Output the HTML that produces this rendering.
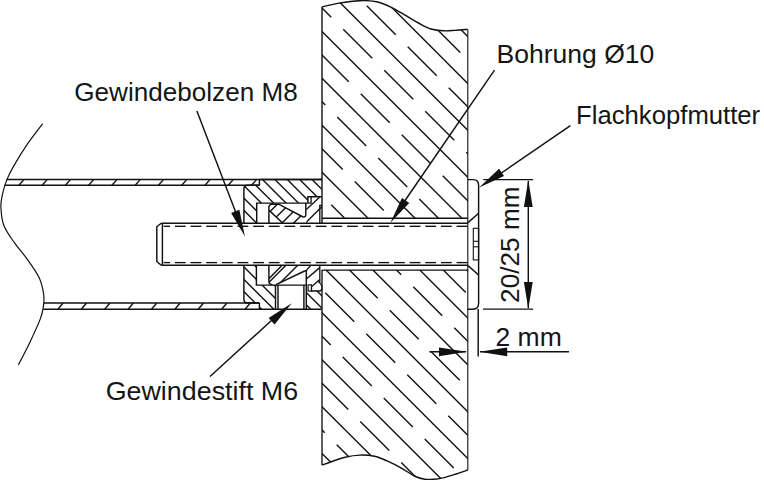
<!DOCTYPE html>
<html><head><meta charset="utf-8"><style>
html,body{margin:0;padding:0;background:#fff;width:764px;height:480px;overflow:hidden}
svg{display:block}
text{font-family:"Liberation Sans",sans-serif;font-size:26.6px;fill:#151515}
</style></head><body>
<svg width="764" height="480" viewBox="0 0 764 480">
<defs><clipPath id="wallclip"><path d="M322.00,6.90 C324.83,6.27 332.68,4.13 339.00,3.10 C345.32,2.07 353.63,0.92 359.90,0.70 C366.17,0.48 371.37,0.70 376.60,1.80 C381.83,2.90 386.40,4.98 391.30,7.30 C396.20,9.62 401.47,13.08 406.00,15.70 C410.53,18.32 414.33,20.78 418.50,23.00 C422.67,25.22 426.80,27.70 431.00,29.00 C435.20,30.30 439.70,30.57 443.70,30.80 C447.70,31.03 450.98,30.63 455.00,30.40 C459.02,30.17 465.67,29.57 467.80,29.40 L467.8,218.3 L322.0,218.3 Z"/><path d="M322.0,270.1 L467.8,270.1 L467.8,470 C465.52,470.77 458.82,473.17 454.10,474.60 C449.38,476.03 444.38,477.83 439.50,478.60 C434.62,479.37 429.00,479.63 424.80,479.20 C420.60,478.77 418.13,477.82 414.30,476.00 C410.47,474.18 406.33,470.82 401.80,468.30 C397.27,465.78 391.65,462.90 387.10,460.90 C382.55,458.90 379.03,457.27 374.50,456.30 C369.97,455.33 364.78,454.95 359.90,455.10 C355.02,455.25 350.08,456.05 345.20,457.20 C340.32,458.35 334.47,460.68 330.60,462.00 C326.73,463.32 323.43,464.58 322.00,465.10 Z"/></clipPath><clipPath id="cbu"><path d="M259.4,179.4 L321.8,179.4 L321.8,196.8 L307.9,196.8 L307.9,203.1 L256.7,203.1 L256.7,223.3 L243.9,223.3 L243.9,189 Q243.9,185.3 247.6,185.3 L259.4,185.3 Z"/></clipPath><clipPath id="cbl"><path d="M243.9,265.3 L256.4,265.3 L256.4,285.1 L275.5,285.1 L275.5,309.3 L259.4,309.3 L259.4,303 L247.6,303 Q243.9,303 243.9,299.3 Z"/></clipPath><clipPath id="cbl2"><path d="M306.3,290.9 L321.8,290.9 L321.8,309.3 L306.3,309.3 Z"/></clipPath><clipPath id="cwu"><path d="M268.9,210.1 L268.9,206.5 L270.6,204.3 L278.7,204.2 L302.6,216.7 Q305.8,217.6 305.8,214.8 L305.8,223.3 L282.9,223.3 Z"/></clipPath><clipPath id="cwl"><path d="M268.9,278.7 L282,265.3 L306.3,265.3 L306.3,271.5 Q305.6,270.4 304.6,271 L276,284.7 L272.5,284.7 Q268.9,284.7 268.9,281.6 Z"/></clipPath><clipPath id="cru"><path d="M306.3,223.3 L306.3,209.4 L319.6,197.2 L321.8,197.2 L321.8,223.3 Z"/></clipPath></defs>
<g stroke="#111" fill="none" stroke-linecap="butt">
<g clip-path="url(#wallclip)" stroke="#111" stroke-linecap="butt"><line x1="317.00" y1="-208.05" x2="472.80" y2="-52.25" stroke-width="1.4"/><line x1="317.00" y1="-161.15" x2="472.80" y2="-5.35" stroke-width="1.4"/><line x1="317.00" y1="-114.25" x2="472.80" y2="41.55" stroke-width="1.4"/><line x1="317.00" y1="-67.35" x2="472.80" y2="88.45" stroke-width="1.4"/><line x1="317.00" y1="-20.45" x2="472.80" y2="135.35" stroke-width="1.4"/><line x1="317.00" y1="26.45" x2="472.80" y2="182.25" stroke-width="1.4"/><line x1="317.00" y1="73.35" x2="472.80" y2="229.15" stroke-width="1.4"/><line x1="317.00" y1="120.25" x2="472.80" y2="276.05" stroke-width="1.4"/><line x1="317.00" y1="167.15" x2="472.80" y2="322.95" stroke-width="1.4"/><line x1="317.00" y1="214.05" x2="472.80" y2="369.85" stroke-width="1.4"/><line x1="317.00" y1="260.95" x2="472.80" y2="416.75" stroke-width="1.4"/><line x1="317.00" y1="307.85" x2="472.80" y2="463.65" stroke-width="1.4"/><line x1="317.00" y1="354.75" x2="472.80" y2="510.55" stroke-width="1.4"/><line x1="317.00" y1="401.65" x2="472.80" y2="557.45" stroke-width="1.4"/><line x1="317.00" y1="448.55" x2="472.80" y2="604.35" stroke-width="1.4"/><line x1="317.00" y1="495.45" x2="472.80" y2="651.25" stroke-width="1.4"/><line x1="317.00" y1="542.35" x2="472.80" y2="698.15" stroke-width="1.4"/><line x1="317.00" y1="589.25" x2="472.80" y2="745.05" stroke-width="1.4"/><line x1="273.25" y1="-228.35" x2="302.25" y2="-199.35" stroke-width="1.4"/><line x1="314.25" y1="-187.35" x2="343.25" y2="-158.35" stroke-width="1.4"/><line x1="355.25" y1="-146.35" x2="384.25" y2="-117.35" stroke-width="1.4"/><line x1="396.25" y1="-105.35" x2="425.25" y2="-76.35" stroke-width="1.4"/><line x1="437.25" y1="-64.35" x2="466.25" y2="-35.35" stroke-width="1.4"/><line x1="249.75" y1="-204.95" x2="278.75" y2="-175.95" stroke-width="1.4"/><line x1="290.75" y1="-163.95" x2="319.75" y2="-134.95" stroke-width="1.4"/><line x1="331.75" y1="-122.95" x2="360.75" y2="-93.95" stroke-width="1.4"/><line x1="372.75" y1="-81.95" x2="401.75" y2="-52.95" stroke-width="1.4"/><line x1="413.75" y1="-40.95" x2="442.75" y2="-11.95" stroke-width="1.4"/><line x1="454.75" y1="0.05" x2="483.75" y2="29.05" stroke-width="1.4"/><line x1="267.25" y1="-140.55" x2="296.25" y2="-111.55" stroke-width="1.4"/><line x1="308.25" y1="-99.55" x2="337.25" y2="-70.55" stroke-width="1.4"/><line x1="349.25" y1="-58.55" x2="378.25" y2="-29.55" stroke-width="1.4"/><line x1="390.25" y1="-17.55" x2="419.25" y2="11.45" stroke-width="1.4"/><line x1="431.25" y1="23.45" x2="460.25" y2="52.45" stroke-width="1.4"/><line x1="472.25" y1="64.45" x2="501.25" y2="93.45" stroke-width="1.4"/><line x1="243.75" y1="-117.15" x2="272.75" y2="-88.15" stroke-width="1.4"/><line x1="284.75" y1="-76.15" x2="313.75" y2="-47.15" stroke-width="1.4"/><line x1="325.75" y1="-35.15" x2="354.75" y2="-6.15" stroke-width="1.4"/><line x1="366.75" y1="5.85" x2="395.75" y2="34.85" stroke-width="1.4"/><line x1="407.75" y1="46.85" x2="436.75" y2="75.85" stroke-width="1.4"/><line x1="448.75" y1="87.85" x2="477.75" y2="116.85" stroke-width="1.4"/><line x1="261.25" y1="-52.75" x2="290.25" y2="-23.75" stroke-width="1.4"/><line x1="302.25" y1="-11.75" x2="331.25" y2="17.25" stroke-width="1.4"/><line x1="343.25" y1="29.25" x2="372.25" y2="58.25" stroke-width="1.4"/><line x1="384.25" y1="70.25" x2="413.25" y2="99.25" stroke-width="1.4"/><line x1="425.25" y1="111.25" x2="454.25" y2="140.25" stroke-width="1.4"/><line x1="466.25" y1="152.25" x2="495.25" y2="181.25" stroke-width="1.4"/><line x1="237.75" y1="-29.35" x2="266.75" y2="-0.35" stroke-width="1.4"/><line x1="278.75" y1="11.65" x2="307.75" y2="40.65" stroke-width="1.4"/><line x1="319.75" y1="52.65" x2="348.75" y2="81.65" stroke-width="1.4"/><line x1="360.75" y1="93.65" x2="389.75" y2="122.65" stroke-width="1.4"/><line x1="401.75" y1="134.65" x2="430.75" y2="163.65" stroke-width="1.4"/><line x1="442.75" y1="175.65" x2="471.75" y2="204.65" stroke-width="1.4"/><line x1="255.25" y1="35.05" x2="284.25" y2="64.05" stroke-width="1.4"/><line x1="296.25" y1="76.05" x2="325.25" y2="105.05" stroke-width="1.4"/><line x1="337.25" y1="117.05" x2="366.25" y2="146.05" stroke-width="1.4"/><line x1="378.25" y1="158.05" x2="407.25" y2="187.05" stroke-width="1.4"/><line x1="419.25" y1="199.05" x2="448.25" y2="228.05" stroke-width="1.4"/><line x1="460.25" y1="240.05" x2="489.25" y2="269.05" stroke-width="1.4"/><line x1="272.75" y1="99.45" x2="301.75" y2="128.45" stroke-width="1.4"/><line x1="313.75" y1="140.45" x2="342.75" y2="169.45" stroke-width="1.4"/><line x1="354.75" y1="181.45" x2="383.75" y2="210.45" stroke-width="1.4"/><line x1="395.75" y1="222.45" x2="424.75" y2="251.45" stroke-width="1.4"/><line x1="436.75" y1="263.45" x2="465.75" y2="292.45" stroke-width="1.4"/><line x1="249.25" y1="122.85" x2="278.25" y2="151.85" stroke-width="1.4"/><line x1="290.25" y1="163.85" x2="319.25" y2="192.85" stroke-width="1.4"/><line x1="331.25" y1="204.85" x2="360.25" y2="233.85" stroke-width="1.4"/><line x1="372.25" y1="245.85" x2="401.25" y2="274.85" stroke-width="1.4"/><line x1="413.25" y1="286.85" x2="442.25" y2="315.85" stroke-width="1.4"/><line x1="454.25" y1="327.85" x2="483.25" y2="356.85" stroke-width="1.4"/><line x1="266.75" y1="187.25" x2="295.75" y2="216.25" stroke-width="1.4"/><line x1="307.75" y1="228.25" x2="336.75" y2="257.25" stroke-width="1.4"/><line x1="348.75" y1="269.25" x2="377.75" y2="298.25" stroke-width="1.4"/><line x1="389.75" y1="310.25" x2="418.75" y2="339.25" stroke-width="1.4"/><line x1="430.75" y1="351.25" x2="459.75" y2="380.25" stroke-width="1.4"/><line x1="471.75" y1="392.25" x2="500.75" y2="421.25" stroke-width="1.4"/><line x1="243.25" y1="210.65" x2="272.25" y2="239.65" stroke-width="1.4"/><line x1="284.25" y1="251.65" x2="313.25" y2="280.65" stroke-width="1.4"/><line x1="325.25" y1="292.65" x2="354.25" y2="321.65" stroke-width="1.4"/><line x1="366.25" y1="333.65" x2="395.25" y2="362.65" stroke-width="1.4"/><line x1="407.25" y1="374.65" x2="436.25" y2="403.65" stroke-width="1.4"/><line x1="448.25" y1="415.65" x2="477.25" y2="444.65" stroke-width="1.4"/><line x1="260.75" y1="275.05" x2="289.75" y2="304.05" stroke-width="1.4"/><line x1="301.75" y1="316.05" x2="330.75" y2="345.05" stroke-width="1.4"/><line x1="342.75" y1="357.05" x2="371.75" y2="386.05" stroke-width="1.4"/><line x1="383.75" y1="398.05" x2="412.75" y2="427.05" stroke-width="1.4"/><line x1="424.75" y1="439.05" x2="453.75" y2="468.05" stroke-width="1.4"/><line x1="465.75" y1="480.05" x2="494.75" y2="509.05" stroke-width="1.4"/><line x1="237.25" y1="298.45" x2="266.25" y2="327.45" stroke-width="1.4"/><line x1="278.25" y1="339.45" x2="307.25" y2="368.45" stroke-width="1.4"/><line x1="319.25" y1="380.45" x2="348.25" y2="409.45" stroke-width="1.4"/><line x1="360.25" y1="421.45" x2="389.25" y2="450.45" stroke-width="1.4"/><line x1="401.25" y1="462.45" x2="430.25" y2="491.45" stroke-width="1.4"/><line x1="442.25" y1="503.45" x2="471.25" y2="532.45" stroke-width="1.4"/><line x1="254.75" y1="362.85" x2="283.75" y2="391.85" stroke-width="1.4"/><line x1="295.75" y1="403.85" x2="324.75" y2="432.85" stroke-width="1.4"/><line x1="336.75" y1="444.85" x2="365.75" y2="473.85" stroke-width="1.4"/><line x1="377.75" y1="485.85" x2="406.75" y2="514.85" stroke-width="1.4"/><line x1="418.75" y1="526.85" x2="447.75" y2="555.85" stroke-width="1.4"/><line x1="459.75" y1="567.85" x2="488.75" y2="596.85" stroke-width="1.4"/><line x1="272.25" y1="427.25" x2="301.25" y2="456.25" stroke-width="1.4"/><line x1="313.25" y1="468.25" x2="342.25" y2="497.25" stroke-width="1.4"/><line x1="354.25" y1="509.25" x2="383.25" y2="538.25" stroke-width="1.4"/><line x1="395.25" y1="550.25" x2="424.25" y2="579.25" stroke-width="1.4"/><line x1="436.25" y1="591.25" x2="465.25" y2="620.25" stroke-width="1.4"/><line x1="248.75" y1="450.65" x2="277.75" y2="479.65" stroke-width="1.4"/><line x1="289.75" y1="491.65" x2="318.75" y2="520.65" stroke-width="1.4"/><line x1="330.75" y1="532.65" x2="359.75" y2="561.65" stroke-width="1.4"/><line x1="371.75" y1="573.65" x2="400.75" y2="602.65" stroke-width="1.4"/><line x1="412.75" y1="614.65" x2="441.75" y2="643.65" stroke-width="1.4"/><line x1="453.75" y1="655.65" x2="482.75" y2="684.65" stroke-width="1.4"/><line x1="266.25" y1="515.05" x2="295.25" y2="544.05" stroke-width="1.4"/><line x1="307.25" y1="556.05" x2="336.25" y2="585.05" stroke-width="1.4"/><line x1="348.25" y1="597.05" x2="377.25" y2="626.05" stroke-width="1.4"/><line x1="389.25" y1="638.05" x2="418.25" y2="667.05" stroke-width="1.4"/><line x1="430.25" y1="679.05" x2="459.25" y2="708.05" stroke-width="1.4"/><line x1="471.25" y1="720.05" x2="500.25" y2="749.05" stroke-width="1.4"/><line x1="242.75" y1="538.45" x2="271.75" y2="567.45" stroke-width="1.4"/><line x1="283.75" y1="579.45" x2="312.75" y2="608.45" stroke-width="1.4"/><line x1="324.75" y1="620.45" x2="353.75" y2="649.45" stroke-width="1.4"/><line x1="365.75" y1="661.45" x2="394.75" y2="690.45" stroke-width="1.4"/><line x1="406.75" y1="702.45" x2="435.75" y2="731.45" stroke-width="1.4"/><line x1="447.75" y1="743.45" x2="476.75" y2="772.45" stroke-width="1.4"/></g>
<path d="M322.00,6.90 C324.83,6.27 332.68,4.13 339.00,3.10 C345.32,2.07 353.63,0.92 359.90,0.70 C366.17,0.48 371.37,0.70 376.60,1.80 C381.83,2.90 386.40,4.98 391.30,7.30 C396.20,9.62 401.47,13.08 406.00,15.70 C410.53,18.32 414.33,20.78 418.50,23.00 C422.67,25.22 426.80,27.70 431.00,29.00 C435.20,30.30 439.70,30.57 443.70,30.80 C447.70,31.03 450.98,30.63 455.00,30.40 C459.02,30.17 465.67,29.57 467.80,29.40" fill="none" stroke-width="1.45"/>
<path d="M322.00,465.10 C323.43,464.58 326.73,463.32 330.60,462.00 C334.47,460.68 340.32,458.35 345.20,457.20 C350.08,456.05 355.02,455.25 359.90,455.10 C364.78,454.95 369.97,455.33 374.50,456.30 C379.03,457.27 382.55,458.90 387.10,460.90 C391.65,462.90 397.27,465.78 401.80,468.30 C406.33,470.82 410.47,474.18 414.30,476.00 C418.13,477.82 420.60,478.77 424.80,479.20 C429.00,479.63 434.62,479.37 439.50,478.60 C444.38,477.83 449.38,476.03 454.10,474.60 C458.82,473.17 465.52,470.77 467.80,470.00" fill="none" stroke-width="1.45"/>
<line x1="322.00" y1="6.90" x2="322.00" y2="223.00" stroke-width="1.4"/>
<line x1="322.00" y1="270.10" x2="322.00" y2="465.10" stroke-width="1.35"/>
<line x1="467.80" y1="29.40" x2="467.80" y2="470.00" stroke-width="1.1"/>
<line x1="322.00" y1="218.30" x2="467.80" y2="218.30" stroke-width="1.45"/>
<line x1="322.00" y1="270.10" x2="467.80" y2="270.10" stroke-width="1.45"/>
<path d="M161.2,223.3 L156.8,226.8 L156.8,261.5 L161.2,265.3" fill="none" stroke-width="1.45"/>
<line x1="162.40" y1="223.30" x2="162.40" y2="265.30" stroke-width="1.45"/>
<line x1="161.20" y1="223.30" x2="468.00" y2="223.30" stroke-width="1.45"/>
<line x1="161.20" y1="265.30" x2="468.00" y2="265.30" stroke-width="1.45"/>
<line x1="163.70" y1="226.30" x2="170.05" y2="226.30" stroke-width="1.35"/><line x1="174.90" y1="226.30" x2="185.70" y2="226.30" stroke-width="1.35"/><line x1="190.55" y1="226.30" x2="201.35" y2="226.30" stroke-width="1.35"/><line x1="206.20" y1="226.30" x2="217.00" y2="226.30" stroke-width="1.35"/><line x1="221.85" y1="226.30" x2="232.65" y2="226.30" stroke-width="1.35"/><line x1="237.50" y1="226.30" x2="248.30" y2="226.30" stroke-width="1.35"/><line x1="253.15" y1="226.30" x2="263.95" y2="226.30" stroke-width="1.35"/><line x1="268.80" y1="226.30" x2="279.60" y2="226.30" stroke-width="1.35"/><line x1="284.45" y1="226.30" x2="295.25" y2="226.30" stroke-width="1.35"/><line x1="300.10" y1="226.30" x2="310.90" y2="226.30" stroke-width="1.35"/><line x1="315.75" y1="226.30" x2="326.55" y2="226.30" stroke-width="1.35"/><line x1="331.40" y1="226.30" x2="342.20" y2="226.30" stroke-width="1.35"/><line x1="347.05" y1="226.30" x2="357.85" y2="226.30" stroke-width="1.35"/><line x1="362.70" y1="226.30" x2="373.50" y2="226.30" stroke-width="1.35"/><line x1="378.35" y1="226.30" x2="389.15" y2="226.30" stroke-width="1.35"/><line x1="394.00" y1="226.30" x2="404.80" y2="226.30" stroke-width="1.35"/><line x1="409.65" y1="226.30" x2="420.45" y2="226.30" stroke-width="1.35"/><line x1="425.30" y1="226.30" x2="436.10" y2="226.30" stroke-width="1.35"/><line x1="440.95" y1="226.30" x2="451.75" y2="226.30" stroke-width="1.35"/><line x1="456.60" y1="226.30" x2="467.40" y2="226.30" stroke-width="1.35"/>
<line x1="163.70" y1="262.60" x2="170.05" y2="262.60" stroke-width="1.35"/><line x1="174.90" y1="262.60" x2="185.70" y2="262.60" stroke-width="1.35"/><line x1="190.55" y1="262.60" x2="201.35" y2="262.60" stroke-width="1.35"/><line x1="206.20" y1="262.60" x2="217.00" y2="262.60" stroke-width="1.35"/><line x1="221.85" y1="262.60" x2="232.65" y2="262.60" stroke-width="1.35"/><line x1="237.50" y1="262.60" x2="248.30" y2="262.60" stroke-width="1.35"/><line x1="253.15" y1="262.60" x2="263.95" y2="262.60" stroke-width="1.35"/><line x1="268.80" y1="262.60" x2="279.60" y2="262.60" stroke-width="1.35"/><line x1="284.45" y1="262.60" x2="295.25" y2="262.60" stroke-width="1.35"/><line x1="300.10" y1="262.60" x2="310.90" y2="262.60" stroke-width="1.35"/><line x1="315.75" y1="262.60" x2="326.55" y2="262.60" stroke-width="1.35"/><line x1="331.40" y1="262.60" x2="342.20" y2="262.60" stroke-width="1.35"/><line x1="347.05" y1="262.60" x2="357.85" y2="262.60" stroke-width="1.35"/><line x1="362.70" y1="262.60" x2="373.50" y2="262.60" stroke-width="1.35"/><line x1="378.35" y1="262.60" x2="389.15" y2="262.60" stroke-width="1.35"/><line x1="394.00" y1="262.60" x2="404.80" y2="262.60" stroke-width="1.35"/><line x1="409.65" y1="262.60" x2="420.45" y2="262.60" stroke-width="1.35"/><line x1="425.30" y1="262.60" x2="436.10" y2="262.60" stroke-width="1.35"/><line x1="440.95" y1="262.60" x2="451.75" y2="262.60" stroke-width="1.35"/><line x1="456.60" y1="262.60" x2="467.40" y2="262.60" stroke-width="1.35"/>
<path d="M42.70,123.60 C40.08,127.12 31.87,137.57 27.00,144.70 C22.13,151.83 16.87,160.53 13.50,166.40 C10.13,172.27 8.60,175.40 6.80,179.90 C5.00,184.40 3.68,188.90 2.70,193.40 C1.72,197.90 0.68,201.50 0.90,206.90 C1.12,212.30 1.67,219.72 4.00,225.80 C6.33,231.88 11.07,237.88 14.90,243.40 C18.73,248.92 22.95,253.17 27.00,258.90 C31.05,264.63 36.43,271.95 39.20,277.80 C41.97,283.65 42.87,289.48 43.60,294.00 C44.33,298.52 44.12,300.83 43.60,304.90 C43.08,308.97 42.82,312.10 40.50,318.40 C38.18,324.70 33.38,334.95 29.70,342.70 C26.02,350.45 20.28,361.20 18.40,364.90" fill="none" stroke-width="1.2"/>
<line x1="6.50" y1="179.40" x2="322.00" y2="179.40" stroke-width="1.45"/>
<line x1="4.60" y1="185.30" x2="259.40" y2="185.30" stroke-width="1.45"/>
<line x1="259.40" y1="179.40" x2="259.40" y2="185.30" stroke-width="1.45"/>
<line x1="18.90" y1="185.30" x2="24.10" y2="179.40" stroke-width="1.4"/>
<line x1="42.16" y1="185.30" x2="47.36" y2="179.40" stroke-width="1.4"/>
<line x1="65.42" y1="185.30" x2="70.62" y2="179.40" stroke-width="1.4"/>
<line x1="88.68" y1="185.30" x2="93.88" y2="179.40" stroke-width="1.4"/>
<line x1="111.94" y1="185.30" x2="117.14" y2="179.40" stroke-width="1.4"/>
<line x1="135.20" y1="185.30" x2="140.40" y2="179.40" stroke-width="1.4"/>
<line x1="158.46" y1="185.30" x2="163.66" y2="179.40" stroke-width="1.4"/>
<line x1="181.72" y1="185.30" x2="186.92" y2="179.40" stroke-width="1.4"/>
<line x1="204.98" y1="185.30" x2="210.18" y2="179.40" stroke-width="1.4"/>
<line x1="228.24" y1="185.30" x2="233.44" y2="179.40" stroke-width="1.4"/>
<line x1="251.50" y1="185.30" x2="256.70" y2="179.40" stroke-width="1.4"/>
<line x1="43.70" y1="303.00" x2="259.40" y2="303.00" stroke-width="1.45"/>
<line x1="43.30" y1="309.30" x2="322.00" y2="309.30" stroke-width="1.45"/>
<line x1="259.40" y1="303.00" x2="259.40" y2="309.30" stroke-width="1.45"/>
<line x1="57.90" y1="309.30" x2="63.10" y2="303.00" stroke-width="1.4"/>
<line x1="81.30" y1="309.30" x2="86.50" y2="303.00" stroke-width="1.4"/>
<line x1="104.70" y1="309.30" x2="109.90" y2="303.00" stroke-width="1.4"/>
<line x1="128.10" y1="309.30" x2="133.30" y2="303.00" stroke-width="1.4"/>
<line x1="151.50" y1="309.30" x2="156.70" y2="303.00" stroke-width="1.4"/>
<line x1="174.90" y1="309.30" x2="180.10" y2="303.00" stroke-width="1.4"/>
<line x1="198.30" y1="309.30" x2="203.50" y2="303.00" stroke-width="1.4"/>
<line x1="221.70" y1="309.30" x2="226.90" y2="303.00" stroke-width="1.4"/>
<line x1="245.10" y1="309.30" x2="250.30" y2="303.00" stroke-width="1.4"/>
<g clip-path="url(#cbu)"><line x1="230.00" y1="47.80" x2="330.00" y2="147.80" stroke-width="1.4"/><line x1="230.00" y1="60.20" x2="330.00" y2="160.20" stroke-width="1.4"/><line x1="230.00" y1="72.60" x2="330.00" y2="172.60" stroke-width="1.4"/><line x1="230.00" y1="85.00" x2="330.00" y2="185.00" stroke-width="1.4"/><line x1="230.00" y1="97.40" x2="330.00" y2="197.40" stroke-width="1.4"/><line x1="230.00" y1="109.80" x2="330.00" y2="209.80" stroke-width="1.4"/><line x1="230.00" y1="122.20" x2="330.00" y2="222.20" stroke-width="1.4"/><line x1="230.00" y1="134.60" x2="330.00" y2="234.60" stroke-width="1.4"/><line x1="230.00" y1="147.00" x2="330.00" y2="247.00" stroke-width="1.4"/><line x1="230.00" y1="159.40" x2="330.00" y2="259.40" stroke-width="1.4"/><line x1="230.00" y1="171.80" x2="330.00" y2="271.80" stroke-width="1.4"/><line x1="230.00" y1="184.20" x2="330.00" y2="284.20" stroke-width="1.4"/><line x1="230.00" y1="196.60" x2="330.00" y2="296.60" stroke-width="1.4"/><line x1="230.00" y1="209.00" x2="330.00" y2="309.00" stroke-width="1.4"/><line x1="230.00" y1="221.40" x2="330.00" y2="321.40" stroke-width="1.4"/><line x1="230.00" y1="233.80" x2="330.00" y2="333.80" stroke-width="1.4"/><line x1="230.00" y1="246.20" x2="330.00" y2="346.20" stroke-width="1.4"/><line x1="230.00" y1="258.60" x2="330.00" y2="358.60" stroke-width="1.4"/></g>
<g clip-path="url(#cbl)"><line x1="230.00" y1="154.70" x2="330.00" y2="254.70" stroke-width="1.4"/><line x1="230.00" y1="167.00" x2="330.00" y2="267.00" stroke-width="1.4"/><line x1="230.00" y1="179.30" x2="330.00" y2="279.30" stroke-width="1.4"/><line x1="230.00" y1="191.60" x2="330.00" y2="291.60" stroke-width="1.4"/><line x1="230.00" y1="203.90" x2="330.00" y2="303.90" stroke-width="1.4"/><line x1="230.00" y1="216.20" x2="330.00" y2="316.20" stroke-width="1.4"/><line x1="230.00" y1="228.50" x2="330.00" y2="328.50" stroke-width="1.4"/><line x1="230.00" y1="240.80" x2="330.00" y2="340.80" stroke-width="1.4"/><line x1="230.00" y1="253.10" x2="330.00" y2="353.10" stroke-width="1.4"/><line x1="230.00" y1="265.40" x2="330.00" y2="365.40" stroke-width="1.4"/><line x1="230.00" y1="277.70" x2="330.00" y2="377.70" stroke-width="1.4"/><line x1="230.00" y1="290.00" x2="330.00" y2="390.00" stroke-width="1.4"/><line x1="230.00" y1="302.30" x2="330.00" y2="402.30" stroke-width="1.4"/><line x1="230.00" y1="314.60" x2="330.00" y2="414.60" stroke-width="1.4"/><line x1="230.00" y1="326.90" x2="330.00" y2="426.90" stroke-width="1.4"/><line x1="230.00" y1="339.20" x2="330.00" y2="439.20" stroke-width="1.4"/></g>
<g clip-path="url(#cbl2)"><line x1="230.00" y1="117.80" x2="330.00" y2="217.80" stroke-width="1.4"/><line x1="230.00" y1="130.10" x2="330.00" y2="230.10" stroke-width="1.4"/><line x1="230.00" y1="142.40" x2="330.00" y2="242.40" stroke-width="1.4"/><line x1="230.00" y1="154.70" x2="330.00" y2="254.70" stroke-width="1.4"/><line x1="230.00" y1="167.00" x2="330.00" y2="267.00" stroke-width="1.4"/><line x1="230.00" y1="179.30" x2="330.00" y2="279.30" stroke-width="1.4"/><line x1="230.00" y1="191.60" x2="330.00" y2="291.60" stroke-width="1.4"/><line x1="230.00" y1="203.90" x2="330.00" y2="303.90" stroke-width="1.4"/><line x1="230.00" y1="216.20" x2="330.00" y2="316.20" stroke-width="1.4"/><line x1="230.00" y1="228.50" x2="330.00" y2="328.50" stroke-width="1.4"/><line x1="230.00" y1="240.80" x2="330.00" y2="340.80" stroke-width="1.4"/><line x1="230.00" y1="253.10" x2="330.00" y2="353.10" stroke-width="1.4"/><line x1="230.00" y1="265.40" x2="330.00" y2="365.40" stroke-width="1.4"/><line x1="230.00" y1="277.70" x2="330.00" y2="377.70" stroke-width="1.4"/><line x1="230.00" y1="290.00" x2="330.00" y2="390.00" stroke-width="1.4"/><line x1="230.00" y1="302.30" x2="330.00" y2="402.30" stroke-width="1.4"/></g>
<g clip-path="url(#cwu)"><line x1="230.00" y1="251.60" x2="330.00" y2="151.60" stroke-width="1.4"/><line x1="230.00" y1="263.30" x2="330.00" y2="163.30" stroke-width="1.4"/><line x1="230.00" y1="275.00" x2="330.00" y2="175.00" stroke-width="1.4"/><line x1="230.00" y1="286.70" x2="330.00" y2="186.70" stroke-width="1.4"/></g>
<g clip-path="url(#cwl)"><line x1="230.00" y1="321.20" x2="330.00" y2="221.20" stroke-width="1.4"/><line x1="230.00" y1="333.00" x2="330.00" y2="233.00" stroke-width="1.4"/></g>
<g clip-path="url(#cru)"><line x1="230.00" y1="298.60" x2="330.00" y2="198.60" stroke-width="1.4"/></g>
<path d="M259.4,179.4 L321.8,179.4" fill="none" stroke-width="1.45"/>
<path d="M321.8,196.8 L307.9,196.8 L307.9,203.1 M307.9,203.1 L256.7,203.1 L256.7,223.3 M243.9,223.3 L243.9,189 Q243.9,185.3 247.6,185.3 L259.4,185.3" fill="none" stroke-width="1.45"/>
<path d="M311.1,196.8 L311.1,203.1 L307.9,203.1" fill="none" stroke-width="1.3"/>
<path d="M265.3 L256.4,265.3" fill="none" stroke-width="0"/>
<path d="M243.9,265.3 L243.9,299.3 Q243.9,303 247.6,303 L259.4,303 M256.4,265.3 L256.4,285.1 L306.3,285.1" fill="none" stroke-width="1.45"/>
<path d="M268.9,223.3 L268.9,206.5 L270.6,204.3 L278.7,204.2 L302.6,216.7 Q305.8,217.6 305.8,214.8 L305.8,203.1 M268.9,210.1 L282.9,223.3" fill="none" stroke-width="1.45"/>
<path d="M268.9,265.3 L268.9,281.6 Q268.9,284.7 272.5,284.7 M268.9,278.7 L282,265.3 M276,284.7 L304.6,271 Q305.6,270.4 306.3,271.5 L306.3,290.9" fill="none" stroke-width="1.45"/>
<line x1="305.90" y1="271.10" x2="310.70" y2="265.30" stroke-width="1.4"/>
<path d="M306.3,209.4 L319.6,197.2 M319.8,223.3 L319.8,205.4 L321.8,205.4" fill="none" stroke-width="1.3"/>
<line x1="306.30" y1="279.00" x2="319.80" y2="267.60" stroke-width="1.4"/>
<path d="M319.8,265.3 L319.8,283" fill="none" stroke-width="1.3"/>
<rect x="308.1" y="284.9" width="3.4" height="6.1" fill="white" stroke-width="1.2"/>
<path d="M311.5,291 L311.5,286.8 L318.6,280.6 Q319.2,283.6 321,284.2 Q322,286 321.9,288.5 Q321.3,291 319.5,291 Z" fill="white" stroke-width="1.3"/>
<line x1="278.00" y1="285.10" x2="278.00" y2="309.30" stroke-width="1.45"/>
<line x1="303.90" y1="285.10" x2="303.90" y2="309.30" stroke-width="1.45"/>
<line x1="275.50" y1="285.10" x2="275.50" y2="309.30" stroke-width="1.45"/>
<line x1="306.30" y1="290.90" x2="306.30" y2="309.30" stroke-width="1.45"/>
<path d="M467.8,179.6 L473.0,179.6 Q478.6,179.6 478.6,185.2 L478.6,303.6 Q478.6,309.2 473.0,309.2 L467.8,309.2" fill="none" stroke-width="1.45"/>
<line x1="468.00" y1="222.60" x2="478.60" y2="213.30" stroke-width="1.45"/>
<line x1="468.00" y1="265.60" x2="478.60" y2="275.00" stroke-width="1.45"/>
<rect x="473.3" y="228.3" width="5.3" height="31.6" fill="none" stroke-width="1.1"/>
<line x1="473.30" y1="241.30" x2="478.60" y2="241.30" stroke-width="1.1"/>
<line x1="473.30" y1="246.80" x2="478.60" y2="246.80" stroke-width="1.1"/>
<line x1="483.30" y1="179.60" x2="533.20" y2="179.60" stroke-width="1.45"/>
<line x1="483.00" y1="309.10" x2="533.20" y2="309.10" stroke-width="1.45"/>
<line x1="528.30" y1="181.00" x2="528.30" y2="308.00" stroke-width="1.45"/>
<polygon points="528.30,179.90 532.70,206.90 523.90,206.90" fill="#111" stroke="none"/>
<polygon points="528.30,308.90 523.90,281.90 532.70,281.90" fill="#111" stroke="none"/>
<line x1="478.20" y1="309.00" x2="478.20" y2="356.50" stroke-width="1.45"/>
<line x1="429.40" y1="351.80" x2="466.00" y2="351.80" stroke-width="1.45"/>
<polygon points="467.00,351.80 439.00,356.20 439.00,347.40" fill="#111" stroke="none"/>
<line x1="480.00" y1="351.80" x2="569.00" y2="351.80" stroke-width="1.45"/>
<polygon points="479.20,351.80 507.20,347.40 507.20,356.20" fill="#111" stroke="none"/>
<line x1="196.90" y1="111.10" x2="236.00" y2="213.00" stroke-width="1.45"/>
<polygon points="244.90,236.60 231.15,212.95 239.36,209.81" fill="#111" stroke="none"/>
<line x1="494.50" y1="70.20" x2="404.00" y2="202.00" stroke-width="1.45"/>
<polygon points="390.40,222.70 401.99,197.92 409.26,202.88" fill="#111" stroke="none"/>
<line x1="570.40" y1="125.70" x2="497.00" y2="176.00" stroke-width="1.45"/>
<polygon points="479.20,187.50 499.08,168.71 504.02,176.00" fill="#111" stroke="none"/>
<line x1="210.00" y1="376.50" x2="272.00" y2="320.00" stroke-width="1.45"/>
<polygon points="291.70,303.30 274.53,324.59 268.65,318.04" fill="#111" stroke="none"/>
</g>
<text x="0" y="0" transform="translate(74.30,100.7) scale(0.9812,1)">Gewindebolzen M8</text>
<text x="0" y="0" transform="translate(496.58,63.2) scale(0.9976,1)">Bohrung Ø10</text>
<text x="0" y="0" transform="translate(576.04,123.7) scale(0.9659,1)">Flachkopfmutter</text>
<text x="0" y="0" transform="translate(105.66,400.2) scale(1.0098,1)">Gewindestift M6</text>
<text x="0" y="0" transform="translate(495.47,345.7) scale(0.9973,1)">2 mm</text>
<text x="0" y="0" transform="translate(519.0,302.91) rotate(-90) scale(0.9854,1)">20/25 mm</text>
</svg>
</body></html>
